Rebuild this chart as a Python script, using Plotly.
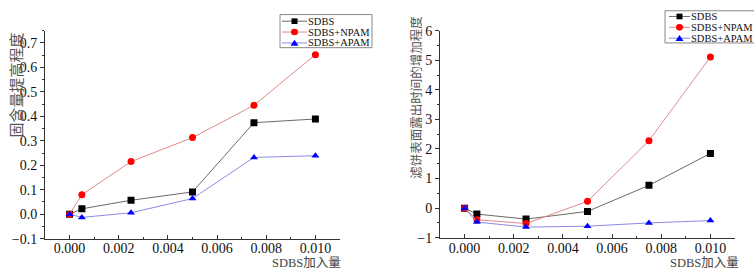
import plotly.graph_objects as go

x_vals = [0.0, 0.0005, 0.0025, 0.005, 0.0075, 0.01]

# Left chart: 固含量提高程度
left_sdbs = [0.0, 0.022, 0.057, 0.091, 0.374, 0.389]
left_npam = [0.0, 0.080, 0.215, 0.313, 0.445, 0.652]
left_apam = [0.0, -0.013, 0.006, 0.064, 0.232, 0.239]

# Right chart: 滤饼表面露出时间的增加程度
right_sdbs = [0.0, -0.20, -0.37, -0.11, 0.77, 1.85]
right_npam = [0.0, -0.39, -0.52, 0.23, 2.28, 5.11]
right_apam = [0.0, -0.47, -0.64, -0.61, -0.50, -0.42]

series_names = ["SDBS", "SDBS+NPAM", "SDBS+APAM"]
marker_colors = ["#000000", "#ff0000", "#0000ff"]
line_colors = ["#6a6a6a", "#e08a8a", "#8a8ae6"]
symbols = ["square", "circle", "triangle-up"]

W, H = 754, 276
serif = "Liberation Serif, Times New Roman, serif"
cjk = "Liberation Serif, Noto Sans CJK SC"

fig = go.Figure()

for vals, name, mc, lc, sym in zip([left_sdbs, left_npam, left_apam], series_names, marker_colors, line_colors, symbols):
    fig.add_trace(go.Scatter(x=x_vals, y=vals, name=name, mode="lines+markers",
                             line=dict(color=lc, width=1),
                             marker=dict(color=mc, symbol=sym, size=7),
                             xaxis="x", yaxis="y", showlegend=False))

for vals, name, mc, lc, sym in zip([right_sdbs, right_npam, right_apam], series_names, marker_colors, line_colors, symbols):
    fig.add_trace(go.Scatter(x=x_vals, y=vals, name=name, mode="lines+markers",
                             line=dict(color=lc, width=1),
                             marker=dict(color=mc, symbol=sym, size=7),
                             xaxis="x2", yaxis="y2", showlegend=False))


def xax(domain):
    return dict(domain=domain, range=[-0.001, 0.011], tickvals=[0, 0.002, 0.004, 0.006, 0.008, 0.01],
                tickformat=".3f", showline=True, linecolor="#333", linewidth=1,
                ticks="inside", ticklen=4, tickcolor="#333", ticklabelstandoff=-3,
                minor=dict(dtick=0.001, ticks="inside", ticklen=2, tickcolor="#333"),
                showgrid=False, zeroline=False, mirror=False,
                tickfont=dict(family=serif, size=14, color="#111"))


def yax(domain, rng, dtick, fmt, mdt, anchor):
    return dict(domain=domain, range=rng, dtick=dtick, tick0=0, tickformat=fmt, anchor=anchor,
                showline=True, linecolor="#333", linewidth=1,
                ticks="outside", ticklen=4, tickcolor="#333",
                minor=dict(dtick=mdt, ticks="outside", ticklen=2, tickcolor="#333"),
                showgrid=False, zeroline=False,
                tickfont=dict(family=serif, size=14, color="#111"))


fig.update_layout(
    width=W, height=H, margin=dict(l=0, r=0, t=0, b=0),
    paper_bgcolor="white", plot_bgcolor="white",
    font=dict(family=serif, size=14, color="#111"),
    xaxis=dict(**xax([45 / W, 340 / W]), anchor="y"),
    yaxis=yax([1 - 245 / H, 1 - 25 / H], [-0.1, 0.75], 0.1, ".1f", 0.05, "x"),
    xaxis2=dict(**xax([440 / W, 735 / W]), anchor="y2"),
    yaxis2=yax([1 - 244 / H, 1 - 25 / H], [-1, 6], 1, "d", 0.5, "x2"),
    showlegend=False,
)


# ---- compact legends (drawn in paper pixels) ----
def px(x):
    return x / W


def py(y):
    return 1 - y / H


def add_legend(box, rows, line_x0, line_x1, text_x, fsize):
    x0, y0, x1, y1 = box
    fig.add_shape(type="rect", xref="paper", yref="paper", x0=px(x0), x1=px(x1), y0=py(y0), y1=py(y1),
                  line=dict(color="#888", width=1), fillcolor="white", layer="above")
    for ry, name, mc, lc, sym in zip(rows, series_names, marker_colors, line_colors, symbols):
        fig.add_shape(type="line", xref="paper", yref="paper", x0=px(line_x0), x1=px(line_x1),
                      y0=py(ry), y1=py(ry), line=dict(color=lc, width=1), layer="above")
        cx = (line_x0 + line_x1) / 2
        if sym == "square":
            fig.add_shape(type="rect", xref="paper", yref="paper", x0=px(cx - 3), x1=px(cx + 3),
                          y0=py(ry - 3), y1=py(ry + 3), line=dict(width=0), fillcolor=mc, layer="above")
        elif sym == "circle":
            fig.add_shape(type="circle", xref="paper", yref="paper", x0=px(cx - 3.5), x1=px(cx + 3.5),
                          y0=py(ry - 3.5), y1=py(ry + 3.5), line=dict(width=0), fillcolor=mc, layer="above")
        else:
            path = "M {:.5f} {:.5f} L {:.5f} {:.5f} L {:.5f} {:.5f} Z".format(
                px(cx), py(ry - 3.5), px(cx - 4), py(ry + 3), px(cx + 4), py(ry + 3))
            fig.add_shape(type="path", xref="paper", yref="paper", path=path,
                          line=dict(width=0), fillcolor=mc, layer="above")
        fig.add_annotation(text=name, x=px(text_x), y=py(ry), xref="paper", yref="paper",
                           xanchor="left", yanchor="middle", showarrow=False,
                           font=dict(family=serif, size=fsize, color="#111"))


add_legend((280, 8, 372, 43), [15, 26.5, 38], 282, 307, 306, 10.5)
add_legend((665, 4, 760, 38), [10, 21.5, 33], 669, 690, 689, 10.5)

fig.add_annotation(text="SDBS加入量", x=343 / W, y=1 - 271 / H, xref="paper", yref="paper",
                   xanchor="right", yanchor="middle", showarrow=False,
                   font=dict(family=cjk, size=12.5, color="#444"))
fig.add_annotation(text="SDBS加入量", x=741 / W, y=1 - 271 / H, xref="paper", yref="paper",
                   xanchor="right", yanchor="middle", showarrow=False,
                   font=dict(family=cjk, size=12.5, color="#444"))
fig.add_annotation(text="固含量提高程度", x=15 / W, y=1 - 83 / H, xref="paper", yref="paper",
                   xanchor="center", yanchor="middle", showarrow=False, textangle=-90,
                   font=dict(family="Noto Sans CJK SC", size=15, color="#555"))
fig.add_annotation(text="滤饼表面露出时间的增加程度", x=416 / W, y=1 - 96 / H, xref="paper", yref="paper",
                   xanchor="center", yanchor="middle", showarrow=False, textangle=-90,
                   font=dict(family="Noto Sans CJK SC", size=12.5, color="#555"))

fig.write_html(
    "out.html",
    config={"displayModeBar": False},
    post_script=(
        "document.body.style.margin='0';document.body.style.overflow='hidden';"
        "var d=document.getElementById('{plot_id}');"
        "d.style.position='fixed';d.style.top='0px';d.style.left='0px';"
    ),
)
